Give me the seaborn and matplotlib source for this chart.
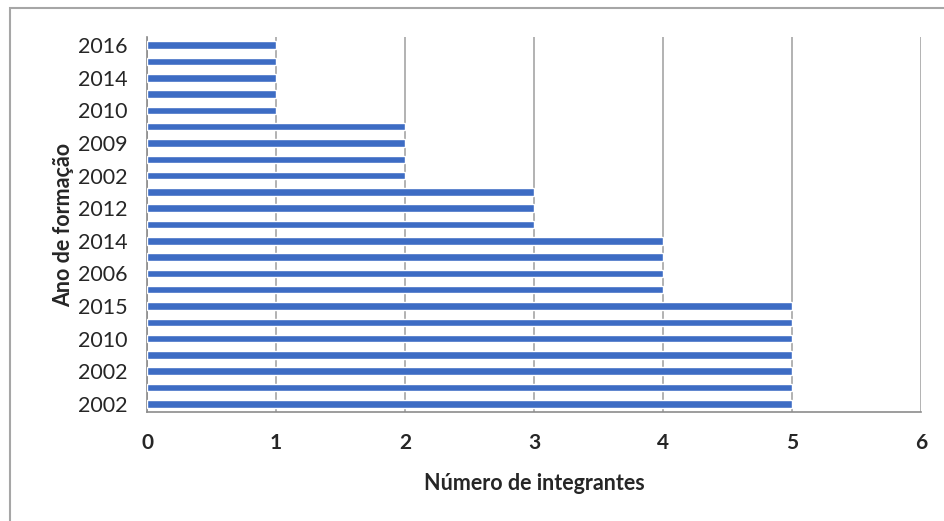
import numpy as np
import pandas as pd
import matplotlib
matplotlib.use("Agg")
import matplotlib.pyplot as plt
import seaborn as sns
from matplotlib.patches import Rectangle

# values listed from the bottom bar to the top bar (Excel order)
valores = [5, 5, 5, 5, 5, 5, 5,
           4, 4, 4, 4,
           3, 3, 3,
           2, 2, 2, 2,
           1, 1, 1, 1, 1]
# only every other category label is shown on the chart
rotulos = ["2002", "2002", "2010", "2015", "2006", "2014",
           "2012", "2002", "2009", "2010", "2014", "2016"]
xticks = [0, 1, 2, 3, 4, 5, 6]

df = pd.DataFrame({"pos": np.arange(len(valores)), "valor": valores})

sns.set_style("white")
plt.rcParams["font.family"] = ["Lato", "DejaVu Sans"]

fig = plt.figure(figsize=(9.44, 5.21), dpi=100)
ax = fig.add_axes([147 / 944, 1 - 412 / 521, (921 - 147) / 944, (412 - 37) / 521])

sns.barplot(data=df, x="valor", y="pos", orient="y", native_scale=True,
            color="#3D6CC4", saturation=1, width=0.46, ax=ax, zorder=3)

ax.set_xlim(0, 6)
ax.set_ylim(-0.5, len(valores) - 0.5)

ax.set_xticks(xticks)
ax.set_xticklabels([str(t) for t in xticks], fontsize=15, fontweight="bold")
ax.tick_params(axis="x", length=5, color="#8C8C8C", direction="out", pad=10)

ax.set_yticks(np.arange(0, len(valores), 2))
ax.set_yticklabels(rotulos, fontsize=15.5)
ax.set_yticks(np.arange(-0.5, len(valores), 1), minor=True)
ax.tick_params(axis="y", which="major", length=0, pad=14)
ax.tick_params(axis="y", which="minor", length=5, color="#8C8C8C", direction="out")

ax.grid(axis="x", color="#A6A6A6", linewidth=1.2, zorder=0)
ax.grid(axis="y", visible=False)
ax.set_axisbelow(True)

for s in ["top", "right"]:
    ax.spines[s].set_visible(False)
for s in ["left", "bottom"]:
    ax.spines[s].set_color("#8C8C8C")
    ax.spines[s].set_linewidth(1.2)

ax.set_xlabel("Número de integrantes", fontsize=15.5, fontweight="bold")
ax.set_ylabel("Ano de formação", fontsize=15.5, fontweight="bold")
ax.xaxis.set_label_coords(0.5, -0.163)
ax.yaxis.set_label_coords(-0.094, 0.5)

# chart area border
fig.patches.append(Rectangle((10 / 944, -0.1), 1.2, 1 - 8 / 521 + 0.1,
                             transform=fig.transFigure, fill=False,
                             edgecolor="#A6A6A6", linewidth=1.5))

fig.savefig("out.png", dpi=100)
